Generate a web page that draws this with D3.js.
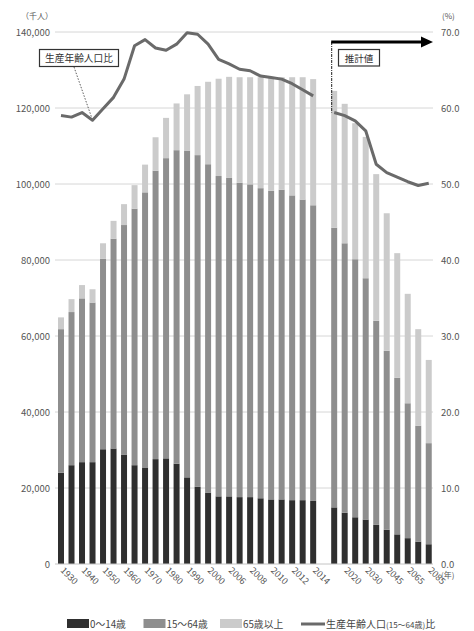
<!DOCTYPE html>
<html>
<head>
<meta charset="utf-8">
<script src="https://cdn.jsdelivr.net/npm/d3@7"></script>
<style>
  body { margin: 0; background: #fff; }
  svg text { font-family: "Noto Sans CJK JP", "Noto Sans", sans-serif; }
</style>
</head>
<body>
<div id="chart"></div>
<script>
// categories (thousand persons), left group = actual, right group = projection
const pastYears = ["1930","1935","1940","1945","1950","1955","1960","1965","1970","1975","1980","1985","1990","1995","2000","2005","2006","2007","2008","2009","2010","2011","2012","2013","2014"];
const projYears = ["2015","2020","2025","2030","2040","2045","2055","2065","2075","2085"];
const tickYears = ["1930","1940","1950","1960","1970","1980","1990","2000","2006","2008","2010","2012","2014","2020","2030","2045","2065","2085"];

// series values (thousand persons)
const age0to14 = [24000,26000,26800,26800,30200,30400,28800,26000,25400,27600,27800,26400,22800,20300,18800,17800,17800,17600,17600,17300,17000,17000,16800,16800,16600,
                  14900,13500,12300,11700,10300,9000,7800,6800,5900,5200];
const age15to64 = [37800,40300,43100,42000,50100,55200,60400,67500,72400,75900,79000,82500,86000,87300,86400,84300,83800,82700,82300,81600,81200,81500,80200,79100,77800,
                   73600,70900,67900,63500,53700,47100,41200,35500,30500,26600];
const age65plus = [3100,3400,3500,3500,4100,4700,5500,6200,7300,8800,10600,12300,14800,18200,21700,25600,26600,27800,28200,29200,29900,29600,31100,32200,33200,
                   36000,36700,35800,37200,38600,36200,32800,28800,25400,21900];
// working-age ratio (%)
const workingRatio = [59.0,58.8,59.4,58.4,59.9,61.4,63.8,68.2,69.0,67.9,67.6,68.4,69.9,69.7,68.4,66.4,65.8,65.1,64.9,64.2,64.0,63.8,63.2,62.4,61.6,
                      59.4,59.0,58.3,57.0,52.6,51.5,50.9,50.3,49.8,50.1];

const leftTicks = [0,20000,40000,60000,80000,100000,120000,140000];
const rightTicks = [0,10,20,30,40,50,60,70];

const seriesKeys = ["a0","a15","a65"];
const seriesNames = ["0～14歳","15～64歳","65歳以上"];
const seriesColors = ["#2f2f2f","#8e8e8e","#cbcbcb"];

const width = 474, height = 631;
const svg = d3.select("#chart").append("svg")
  .attr("width", width).attr("height", height);

const allYears = pastYears.concat(projYears);
const rows = allYears.map((yr, i) => ({
  year: yr, a0: age0to14[i], a15: age15to64[i], a65: age65plus[i], ratio: workingRatio[i]
}));

// band scale with an empty slot between actual and projection
const x = d3.scaleBand()
  .domain(pastYears.concat(["gap"], projYears))
  .range([55.75, 434])
  .paddingInner(0.43)
  .paddingOuter(0.215);

const y = d3.scaleLinear().domain([0, 140000]).range([564, 32]);
const yR = d3.scaleLinear().domain([0, 70]).range([564, 32]);

// gridlines
svg.append("g")
  .selectAll("line")
  .data(leftTicks.slice(1))
  .join("line")
    .attr("x1", 55).attr("x2", 433)
    .attr("y1", d => y(d)).attr("y2", d => y(d))
    .attr("stroke", "#d6d6d6").attr("stroke-width", 1);

// stacked bars
const stacked = d3.stack().keys(seriesKeys)(rows);
svg.append("g")
  .selectAll("g")
  .data(stacked)
  .join("g")
    .attr("fill", (d, i) => seriesColors[i])
  .selectAll("rect")
  .data(d => d)
  .join("rect")
    .attr("x", d => x(d.data.year))
    .attr("width", x.bandwidth())
    .attr("y", d => y(d[1]))
    .attr("height", d => y(d[0]) - y(d[1]));

// baseline
svg.append("line")
  .attr("x1", 55).attr("x2", 433)
  .attr("y1", y(0)).attr("y2", y(0))
  .attr("stroke", "#c4c4c4").attr("stroke-width", 1);

// working-age ratio line, drawn in two parts
const line = d3.line()
  .x(d => x(d.year) + x.bandwidth() / 2)
  .y(d => yR(d.ratio))
  .curve(d3.curveLinear);

[rows.slice(0, pastYears.length), rows.slice(pastYears.length)].forEach(part => {
  svg.append("path")
    .datum(part)
    .attr("d", line)
    .attr("fill", "none")
    .attr("stroke", "#6a6a6a")
    .attr("stroke-width", 3)
    .attr("stroke-linejoin", "round");
});

// left axis
const leftAxis = svg.append("g")
  .attr("transform", "translate(55,0)")
  .call(d3.axisLeft(y).tickValues(leftTicks).tickFormat(d3.format(",")).tickSize(0).tickPadding(5));
leftAxis.select(".domain").remove();
leftAxis.selectAll("text").attr("fill", "#555").style("font-size", "9.5px");

// right axis
const rightAxis = svg.append("g")
  .attr("transform", "translate(433,0)")
  .call(d3.axisRight(yR).tickValues(rightTicks).tickFormat(d3.format(".1f")).tickSize(0).tickPadding(8));
rightAxis.select(".domain").remove();
rightAxis.selectAll("text").attr("fill", "#555").style("font-size", "9.5px");

// x axis, rotated labels
const xAxis = svg.append("g")
  .attr("transform", "translate(0,564)")
  .call(d3.axisBottom(x).tickValues(tickYears).tickSize(0).tickPadding(0));
xAxis.select(".domain").remove();
xAxis.selectAll("text")
  .attr("fill", "#555")
  .style("font-size", "9px")
  .attr("text-anchor", "start")
  .attr("dy", "0")
  .attr("transform", "translate(-1,7) rotate(45)");

// unit labels
svg.append("text").attr("x", 21).attr("y", 19).attr("fill", "#555")
  .style("font-size", "8px").text("（千人）");
svg.append("text").attr("x", 442).attr("y", 19).attr("fill", "#555")
  .style("font-size", "8px").text("(%)");
svg.append("text").attr("x", 441).attr("y", 578).attr("fill", "#555")
  .style("font-size", "8px").text("(年)");

// annotation: working-age ratio label
const dipX = x("1945") + x.bandwidth() / 2 - 1;
const dipY = yR(workingRatio[3]) - 3;
svg.append("line")
  .attr("x1", 74).attr("y1", 67).attr("x2", dipX).attr("y2", dipY)
  .attr("stroke", "#333").attr("stroke-width", 0.8)
  .attr("stroke-dasharray", "1.5,1.5");
svg.append("rect")
  .attr("x", 39.5).attr("y", 49.5).attr("width", 79).attr("height", 17)
  .attr("fill", "#fff").attr("stroke", "#333").attr("stroke-width", 1.2);
svg.append("text")
  .attr("x", 79).attr("y", 61.5).attr("text-anchor", "middle")
  .attr("fill", "#333").style("font-size", "9.7px").text("生産年齢人口比");

// annotation: projection arrow
const projX = x(projYears[0]) + 0.5;
svg.append("line")
  .attr("x1", projX).attr("x2", projX)
  .attr("y1", 42).attr("y2", yR(workingRatio[pastYears.length]))
  .attr("stroke", "#222").attr("stroke-width", 1)
  .attr("stroke-dasharray", "3,1,1,1");
svg.append("line")
  .attr("x1", projX - 0.5).attr("x2", 423)
  .attr("y1", 42).attr("y2", 42)
  .attr("stroke", "#000").attr("stroke-width", 3);
svg.append("path")
  .attr("d", "M421,36.5 L433,42 L421,47.5 Z")
  .attr("fill", "#000");
svg.append("rect")
  .attr("x", 338.5).attr("y", 49.5).attr("width", 41).attr("height", 16.5)
  .attr("fill", "#fff").attr("stroke", "#333").attr("stroke-width", 1.2);
svg.append("text")
  .attr("x", 359).attr("y", 61.5).attr("text-anchor", "middle")
  .attr("fill", "#333").style("font-size", "9.5px").text("推計値");

// legend
const legend = svg.append("g");
const legendX = [67, 143.5, 220];
seriesNames.forEach((name, i) => {
  legend.append("rect")
    .attr("x", legendX[i]).attr("y", 619).attr("width", 22).attr("height", 9)
    .attr("fill", seriesColors[i]);
  legend.append("text")
    .attr("x", legendX[i] + 23).attr("y", 628)
    .attr("fill", "#444").style("font-size", "9.8px").text(name);
});
legend.append("line")
  .attr("x1", 301).attr("x2", 325).attr("y1", 624).attr("y2", 624)
  .attr("stroke", "#6a6a6a").attr("stroke-width", 3);
const lt = legend.append("text")
  .attr("x", 326).attr("y", 628)
  .attr("fill", "#444").style("font-size", "10px");
lt.append("tspan").text("生産年齢人口");
lt.append("tspan").style("font-size", "8px").text("(15～64歳)");
lt.append("tspan").text("比");
</script>
</body>
</html>
